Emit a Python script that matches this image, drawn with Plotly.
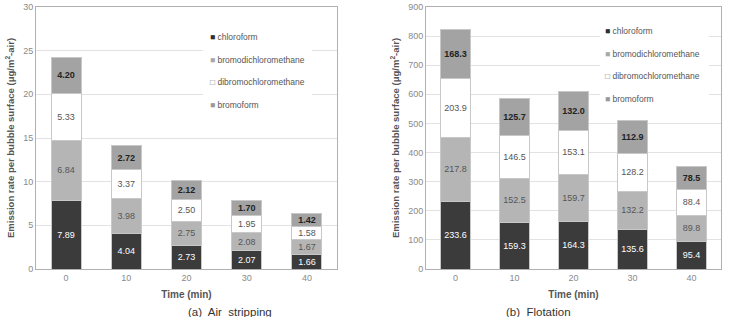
import plotly.graph_objects as go
from plotly.subplots import make_subplots

times = ["0", "10", "20", "30", "40"]
series_names = ["chloroform", "bromodichloromethane", "dibromochloromethane", "bromoform"]

air_chloroform = [7.89, 4.04, 2.73, 2.07, 1.66]
air_bdcm = [6.84, 3.98, 2.75, 2.08, 1.67]
air_dbcm = [5.33, 3.37, 2.50, 1.95, 1.58]
air_bromoform = [4.20, 2.72, 2.12, 1.70, 1.42]

flo_chloroform = [233.6, 159.3, 164.3, 135.6, 95.4]
flo_bdcm = [217.8, 152.5, 159.7, 132.2, 89.8]
flo_dbcm = [203.9, 146.5, 153.1, 128.2, 88.4]
flo_bromoform = [168.3, 125.7, 132.0, 112.9, 78.5]

fills = ["#3b3b3b", "#b5b5b5", "#ffffff", "#a3a3a3"]
legend_marks = ["■", "■", "□", "■"]
legend_mark_colors = ["#2e2e2e", "#a8a8a8", "#777777", "#999999"]
text_colors = ["#ffffff", "#555555", "#555555", "#222222"]
FONT = "Liberation Sans"

W, H = 729, 317
T, B = 7, 48
PH = H - T - B

def px_x(x):
    return x / W

def px_y(y):
    return 1 - (y - T) / PH

fig = make_subplots(rows=1, cols=2)

def add_panel(col, data, fmt):
    for i, (name, vals) in enumerate(zip(series_names, data)):
        txt = [fmt.format(v) for v in vals]
        if i == 3:
            txt = ["<b>" + t + "</b>" for t in txt]
        fig.add_trace(go.Bar(
            x=times, y=vals, name=name, text=txt,
            textposition="inside", insidetextanchor="middle",
            textangle=0, constraintext="none",
            textfont=dict(color=text_colors[i], size=9, family=FONT),
            marker=dict(color=fills[i], line=dict(color="#c8c8c8", width=1)),
            width=0.5, showlegend=False, hoverinfo="skip",
        ), row=1, col=col)

add_panel(1, [air_chloroform, air_bdcm, air_dbcm, air_bromoform], "{:.2f}")
add_panel(2, [flo_chloroform, flo_bdcm, flo_dbcm, flo_bromoform], "{:.1f}")

ytitle = "Emission rate per bubble surface (μg/m<sup>2</sup>-air)"
axis_common = dict(showline=True, mirror=True, linecolor="#b0b0b0", linewidth=1,
                   tickfont=dict(size=9, color="#8a8a8a", family=FONT), ticks="")
xt = dict(text="<b>Time (min)</b>", font=dict(size=10, color="#555555", family=FONT), standoff=9)
yt = dict(text="<b>" + ytitle + "</b>", font=dict(size=9.5, color="#555555", family=FONT), standoff=6)

fig.update_xaxes(domain=[px_x(36), px_x(337)], row=1, col=1, **axis_common, title=xt)
fig.update_xaxes(domain=[px_x(426), px_x(721)], row=1, col=2, **axis_common, title=xt)
fig.update_yaxes(range=[0, 30], dtick=5, row=1, col=1, **axis_common,
                 showgrid=True, gridcolor="#e2e2e2", zeroline=False, title=yt)
fig.update_yaxes(range=[0, 900], dtick=100, row=1, col=2, **axis_common,
                 showgrid=True, gridcolor="#e2e2e2", zeroline=False, title=yt)

shapes = [
    dict(type="rect", xref="paper", yref="paper", x0=px_x(203), x1=px_x(312),
         y0=px_y(118), y1=px_y(22), fillcolor="white", line=dict(width=0), layer="above"),
    dict(type="rect", xref="paper", yref="paper", x0=px_x(600), x1=px_x(709),
         y0=px_y(112), y1=px_y(16), fillcolor="white", line=dict(width=0), layer="above"),
]

annotations = []
for lx, ys in [(208, [37, 60, 82, 105]), (603, [31, 54, 76, 99])]:
    for i, name in enumerate(series_names):
        annotations.append(dict(
            text='<span style="color:%s">%s</span> %s' % (legend_mark_colors[i], legend_marks[i], name),
            x=px_x(lx), y=px_y(ys[i]), xref="paper", yref="paper",
            xanchor="left", yanchor="middle", showarrow=False,
            font=dict(size=8.5, color="#555555", family=FONT)))

annotations += [
    dict(text="(a)  Air  stripping", x=px_x(186), y=px_y(304), xref="paper", yref="paper",
         yanchor="top", showarrow=False, font=dict(size=11.5, color="#333333", family=FONT)),
    dict(text="(b)  Flotation", x=px_x(573), y=px_y(304), xref="paper", yref="paper",
         yanchor="top", showarrow=False, font=dict(size=11.5, color="#333333", family=FONT)),
]

fig.update_layout(
    width=W, height=H, barmode="stack",
    margin=dict(l=0, r=0, t=T, b=B),
    paper_bgcolor="white", plot_bgcolor="white",
    font=dict(family=FONT),
    shapes=shapes, annotations=annotations,
    showlegend=False,
)

fig.write_html("out.html")
